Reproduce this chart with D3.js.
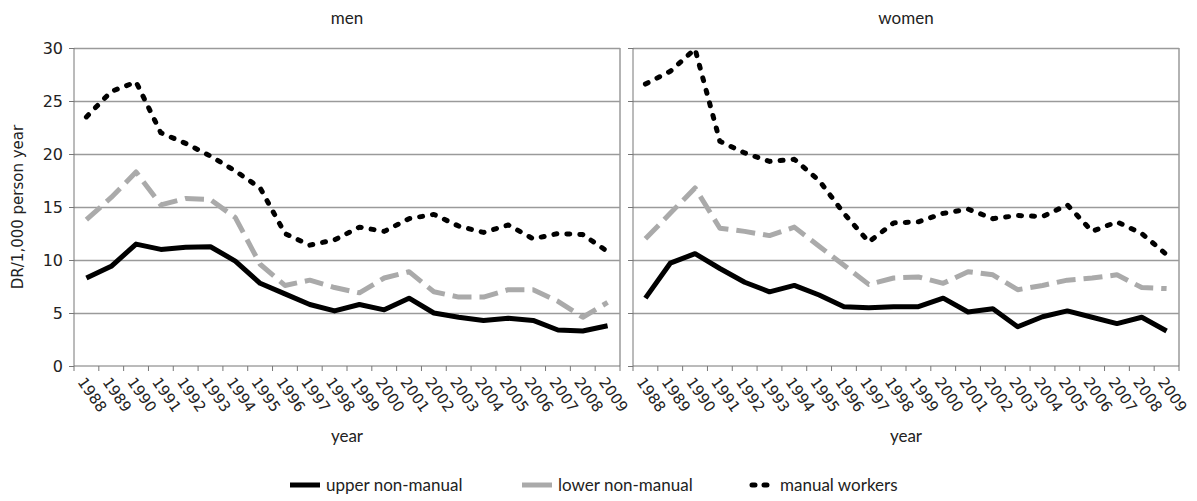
<!DOCTYPE html>
<html>
<head>
<meta charset="utf-8">
<script src="https://cdn.jsdelivr.net/npm/d3@7/dist/d3.min.js"></script>
<style>
  body { margin: 0; background: #fff; }
  svg { display: block; }
  .tick text { font-family: "DejaVu Sans", sans-serif; fill: #222; }
</style>
</head>
<body>
<div id="chart"></div>
<script>
// data
const years = d3.range(1988, 2010);

const menUpper  = [8.3, 9.4, 11.5, 11.0, 11.2, 11.25, 9.9, 7.8, 6.8, 5.8, 5.2, 5.8, 5.3, 6.4, 5.0, 4.6, 4.3, 4.5, 4.3, 3.4, 3.3, 3.8];
const menLower  = [13.8, 15.9, 18.3, 15.2, 15.8, 15.7, 14.0, 9.6, 7.6, 8.1, 7.4, 6.9, 8.3, 8.9, 7.0, 6.5, 6.5, 7.2, 7.2, 6.1, 4.6, 6.0];
const menManual = [23.5, 25.9, 26.8, 22.0, 21.0, 19.8, 18.4, 16.8, 12.5, 11.4, 11.9, 13.1, 12.7, 13.9, 14.3, 13.2, 12.6, 13.3, 12.0, 12.5, 12.4, 10.8];

const womenUpper  = [6.4, 9.7, 10.6, 9.2, 7.9, 7.0, 7.6, 6.7, 5.6, 5.5, 5.6, 5.6, 6.4, 5.1, 5.4, 3.7, 4.65, 5.2, 4.6, 4.0, 4.6, 3.3];
const womenLower  = [12.0, 14.4, 16.8, 13.0, 12.7, 12.3, 13.1, 11.3, 9.5, 7.7, 8.3, 8.4, 7.8, 8.9, 8.6, 7.2, 7.6, 8.1, 8.3, 8.6, 7.4, 7.3];
const womenManual = [26.6, 27.8, 29.9, 21.2, 20.1, 19.3, 19.5, 17.5, 14.4, 11.7, 13.5, 13.6, 14.4, 14.8, 13.9, 14.2, 14.1, 15.2, 12.7, 13.6, 12.5, 10.5];

const yTicks = [0, 5, 10, 15, 20, 25, 30];
const panels = ["men", "women"];
const seriesNames = ["upper non-manual", "lower non-manual", "manual workers"];

const W = 1197, H = 501;
const plotTop = 48, plotBottom = 366;
const panelLeft = [74, 633], panelW = 546;

const styles = {
  "upper non-manual": {stroke: "#000", dash: null, cap: "butt", width: 5},
  "lower non-manual": {stroke: "#aaaaaa", dash: "19,8", cap: "butt", width: 5},
  "manual workers":   {stroke: "#000", dash: "3,10", cap: "round", width: 5}
};

const svg = d3.select("#chart").append("svg")
  .attr("width", W).attr("height", H);

const y = d3.scaleLinear().domain([0, 30]).range([plotBottom, plotTop]);

const panelData = {
  men: [menUpper, menLower, menManual],
  women: [womenUpper, womenLower, womenManual]
};

panels.forEach((p, pi) => {
  const x = d3.scaleBand().domain(years).range([panelLeft[pi], panelLeft[pi] + panelW]);
  const g = svg.append("g");

  // grid lines
  g.append("g")
    .attr("transform", `translate(${panelLeft[pi]},0)`)
    .call(d3.axisLeft(y).tickValues(yTicks.slice(1)).tickSize(-panelW).tickFormat(""))
    .call(s => s.select(".domain").remove())
    .call(s => s.selectAll("line").attr("stroke", "#9a9a9a").attr("stroke-width", 1.3));

  // right border
  g.append("line")
    .attr("x1", panelLeft[pi] + panelW).attr("x2", panelLeft[pi] + panelW)
    .attr("y1", plotTop).attr("y2", plotBottom)
    .attr("stroke", "#9a9a9a").attr("stroke-width", 1.5);

  // y axis
  const yAxis = g.append("g")
    .attr("transform", `translate(${panelLeft[pi]},0)`)
    .call(d3.axisLeft(y).tickValues(yTicks).tickSize(5).tickPadding(6)
      .tickFormat(pi === 0 ? d3.format("d") : ""));
  yAxis.selectAll("line").attr("stroke", "#777");
  yAxis.select(".domain").attr("stroke", "#777").attr("d", `M-0,${plotTop}V${plotBottom}`);
  yAxis.selectAll("text").style("font-size", "16px");

  // x axis
  const xAxis = g.append("g")
    .attr("transform", `translate(0,${plotBottom})`)
    .call(d3.axisBottom(x).tickSize(0).tickFormat(""));
  xAxis.select(".domain").attr("stroke", "#777").attr("d", `M${panelLeft[pi]},0H${panelLeft[pi] + panelW}`);
  xAxis.selectAll(".bound")
    .data(years.concat([null]))
    .join("line")
    .attr("class", "bound")
    .attr("x1", d => d === null ? panelLeft[pi] + panelW : x(d))
    .attr("x2", d => d === null ? panelLeft[pi] + panelW : x(d))
    .attr("y1", 0).attr("y2", 5)
    .attr("stroke", "#777");
  xAxis.selectAll(".yl")
    .data(years)
    .join("text")
    .attr("class", "yl")
    .attr("transform", d => `translate(${x(d) + x.bandwidth() / 2 - 5},${13}) rotate(55)`)
    .attr("dy", "0.35em")
    .attr("text-anchor", "start")
    .style("font-family", "DejaVu Sans, sans-serif")
    .style("font-size", "15px")
    .attr("fill", "#222")
    .text(d => d);

  // lines
  const line = d3.line()
    .x((d, i) => x(years[i]) + x.bandwidth() / 2)
    .y(d => y(d));

  panelData[p].forEach((vals, si) => {
    const st = styles[seriesNames[si]];
    g.append("path")
      .datum(vals)
      .attr("fill", "none")
      .attr("stroke", st.stroke)
      .attr("stroke-width", st.width)
      .attr("stroke-linecap", st.cap)
      .attr("stroke-linejoin", "round")
      .attr("stroke-dasharray", st.dash)
      .attr("d", line);
  });

  // panel title
  svg.append("text")
    .attr("x", panelLeft[pi] + panelW / 2).attr("y", 24)
    .attr("text-anchor", "middle")
    .style("font-family", "Lato, sans-serif").style("font-size", "17px")
    .attr("fill", "#222")
    .text(p);

  // x label
  svg.append("text")
    .attr("x", panelLeft[pi] + panelW / 2).attr("y", 442)
    .attr("text-anchor", "middle")
    .style("font-family", "Lato, sans-serif").style("font-size", "17px")
    .attr("fill", "#222")
    .text("year");
});

// y label
svg.append("text")
  .attr("transform", `translate(23,${(plotTop + plotBottom) / 2}) rotate(-90)`)
  .attr("text-anchor", "middle")
  .style("font-family", "DejaVu Sans, sans-serif").style("font-size", "15px")
  .attr("fill", "#222")
  .text("DR/1,000 person year");

// legend
const legendX = [290, 522, 752];
const legendW = [30, 30, 22];
const lg = svg.append("g").attr("transform", "translate(0,485)");
seriesNames.forEach((n, i) => {
  const st = styles[n];
  lg.append("line")
    .attr("x1", legendX[i]).attr("x2", legendX[i] + legendW[i])
    .attr("y1", 0).attr("y2", 0)
    .attr("stroke", st.stroke).attr("stroke-width", st.width)
    .attr("stroke-linecap", st.cap)
    .attr("stroke-dasharray", i === 2 ? "3,9" : null);
  lg.append("text")
    .attr("x", legendX[i] + legendW[i] + 6).attr("y", 0)
    .attr("dy", "0.35em")
    .style("font-family", "Lato, sans-serif").style("font-size", "17px")
    .attr("fill", "#222")
    .text(n);
});
</script>
</body>
</html>
